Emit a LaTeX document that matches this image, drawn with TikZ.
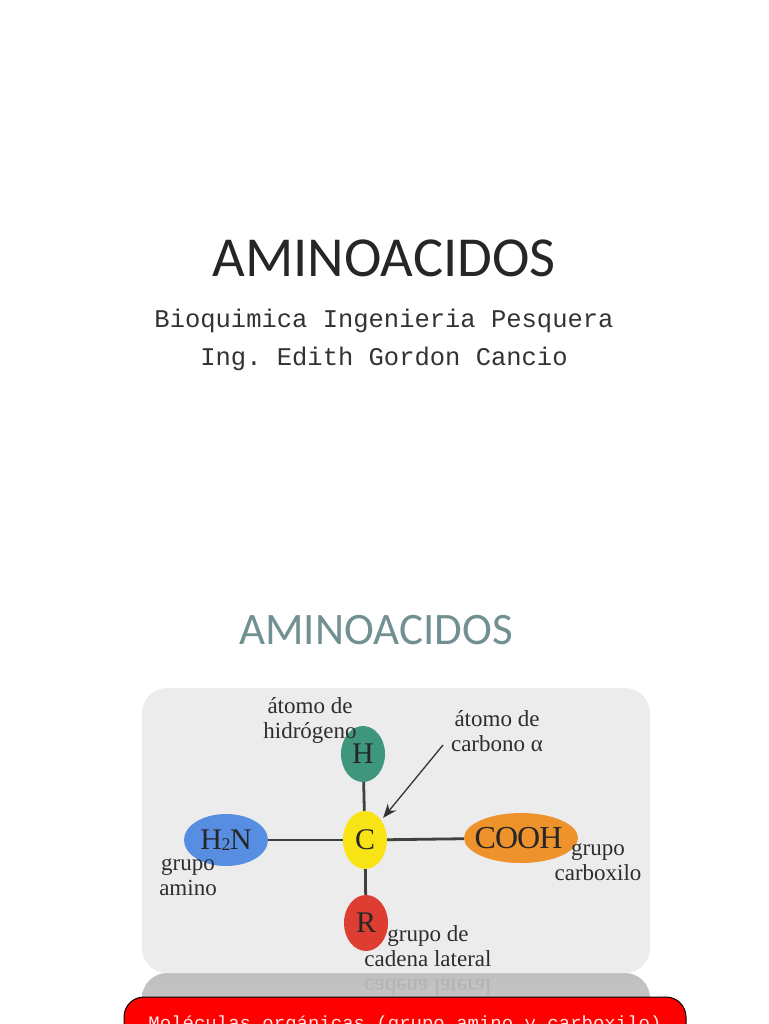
\documentclass[tikz,border=0pt]{standalone}
\usepackage{fontspec}
\setmainfont{Liberation Serif}
\newfontfamily\titlefont{Carlito}
\newfontfamily\monofont{Liberation Mono}
\usetikzlibrary{shapes.geometric,arrows.meta}
\definecolor{titlegray}{RGB}{112,144,146}
\definecolor{panelgray}{RGB}{236,236,236}
\definecolor{hgreen}{RGB}{62,150,125}
\definecolor{cyellow}{RGB}{248,228,20}
\definecolor{rred}{RGB}{222,62,50}
\definecolor{nblue}{RGB}{88,142,226}
\definecolor{coorange}{RGB}{238,146,44}
\definecolor{labelgray}{RGB}{45,45,45}
\frenchspacing

\begin{document}
\begin{tikzpicture}[x=1pt, y=-1pt, >=Stealth]
\tikzset{
  atom/.style={draw=none, ellipse, inner sep=0pt, text=black!85, font=\fontsize{30}{30}\selectfont},
  bond/.style={line width=2.8pt, draw=black!75},
  lbl/.style={align=center, inner sep=0pt, text=labelgray, font=\fontsize{23}{25}\selectfont},
  heading/.style={inner sep=0pt, font=\titlefont\fontsize{#1}{#1}\selectfont},
  subline/.style={inner sep=0pt, text=black!80, font=\monofont\fontsize{25.5}{25.5}\selectfont}
}
\clip (0,0) rectangle (768,1024);

\node[heading=56.5, text=black!85] (title) at (384,258) {AMINOACIDOS};
\node[subline] (sub1) at (384,321) {Bioquimica Ingenieria Pesquera};
\node[subline] (sub2) at (384,359) {Ing. Edith Gordon Cancio};
\node[heading=45, text=titlegray] (title2) at (376,630) {AMINOACIDOS};

\node[draw=none, rounded corners=25pt, top color=black!25, bottom color=black!18, minimum width=508pt, minimum height=90pt, inner sep=0pt] (mirror) at (396,1018) {};
\node[lbl, transform shape, yscale=-1, text=black!30] (mirrortext) at (428,987) {cadena lateral};
\node[fill=panelgray, rounded corners=25pt, minimum width=508pt, minimum height=285pt, inner sep=0pt] (panel) at (396,830.5) {};

\node[atom, fill=hgreen, minimum width=44pt, minimum height=56pt] (hatom) at (363,754) {H};
\node[atom, fill=cyellow, minimum width=44pt, minimum height=58pt] (ccarbon) at (365,840) {C};
\node[atom, fill=rred, minimum width=44pt, minimum height=56pt] (ratom) at (366,923) {R};
\node[atom, fill=nblue, minimum width=84pt, minimum height=52pt] (amino) at (226,840) {\makebox[0pt]{H\kern-0.5pt\raisebox{-0.5pt}{\fontsize{18}{18}\selectfont 2}\kern-0.5pt N}};
\node[atom, fill=coorange, minimum width=114pt, minimum height=50pt] (carboxyl) at (521,838) {\makebox[0pt]{\hspace*{-5pt}\fontsize{32}{32}\selectfont\addfontfeatures{LetterSpace=-3}COOH}};

\draw[bond] (hatom) -- (ccarbon);
\draw[bond] (ccarbon) -- (ratom);
\draw[bond] (amino) -- (ccarbon);
\draw[bond] (ccarbon) -- (carboxyl);

\node[lbl] (lblh) at (310,720) {átomo de\\hidrógeno};
\node[lbl] (lblalpha) at (497,731) {átomo de\\carbono α};
\node[lbl] (lblamino) at (188,877) {grupo\\amino};
\node[lbl] (lblcarboxyl) at (598,862) {grupo\\carboxilo};
\node[lbl] (lblr) at (428,946) {grupo de\\cadena lateral};

\coordinate (alphatail) at (443,745);
\draw[->, line width=1.3pt, draw=black!80, shorten >=3pt, >={Stealth[length=14pt,width=11pt]}] (alphatail) -- (ccarbon);

\node[draw=black, line width=1pt, fill=red, rounded corners=20pt, minimum width=562pt, minimum height=80pt, inner sep=0pt] (redbox) at (405,1037) {};
\node[inner sep=0pt, text=white!90!red, anchor=base, font=\monofont\fontsize{19}{19}\selectfont] (redtext) at (405,1029) {Moléculas orgánicas (grupo amino y carboxilo)};
\end{tikzpicture}
\end{document}
